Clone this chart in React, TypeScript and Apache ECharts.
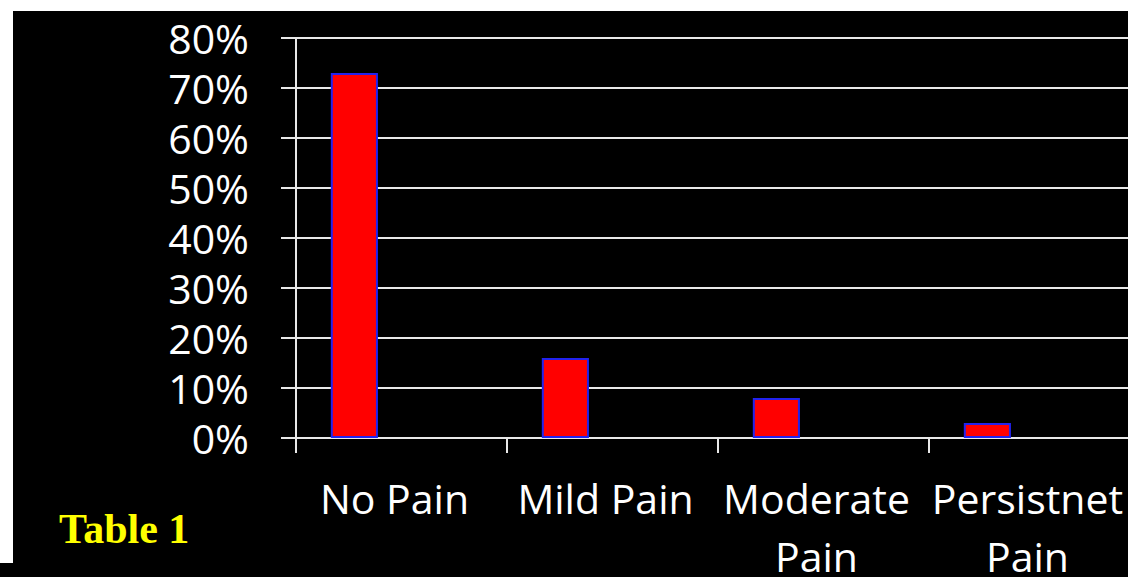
import React, { useEffect, useRef } from "react";
import * as echarts from "echarts";

const categories = ["No Pain", "Mild Pain", "Moderate\nPain", "Persistnet\nPain"];
const painValues = [73, 16, 8, 3];
const yTicks = { min: 0, max: 80, interval: 10 };
const captionText = "Table 1";

export default function App() {
  const ref = useRef<HTMLDivElement>(null);
  useEffect(() => {
    if (!ref.current) return;
    const chart = echarts.init(ref.current, null, { renderer: "svg" });
    const font = "Open Sans";
    chart.setOption({
      animation: false,
      backgroundColor: "#ffffff",
      graphic: [
        { type: "rect", z: -10, shape: { x: 13, y: 11, width: 1115, height: 566 }, style: { fill: "#000000" } },
        { type: "rect", z: -10, shape: { x: 0, y: 563, width: 13, height: 14 }, style: { fill: "#000000" } },
        {
          type: "text",
          left: 59,
          top: 508,
          style: {
            text: captionText,
            fill: "#ffff00",
            font: "bold 42px 'Liberation Serif', 'Times New Roman', serif",
          },
        },
      ],
      grid: {
        left: 296,
        top: 38,
        width: 844,
        height: 400,
        containLabel: false,
        outerBoundsMode: "none",
      },
      xAxis: {
        type: "category",
        data: categories,
        axisLine: { show: true, lineStyle: { color: "#e8e8e8", width: 2 } },
        axisTick: { show: true, length: 15, lineStyle: { color: "#e8e8e8", width: 2 } },
        axisLabel: {
          interval: 0,
          color: "#ffffff",
          fontFamily: font,
          fontSize: 41,
          lineHeight: 58,
          margin: 31,
          padding: [0, 14, 0, 0],
        },
      },
      yAxis: {
        type: "value",
        min: yTicks.min,
        max: yTicks.max,
        interval: yTicks.interval,
        axisLine: { show: true, lineStyle: { color: "#e8e8e8", width: 2 } },
        axisTick: { show: true, length: 15, lineStyle: { color: "#e8e8e8", width: 2 } },
        splitLine: { show: true, lineStyle: { color: "#e8e8e8", width: 2 } },
        axisLabel: {
          color: "#ffffff",
          fontFamily: font,
          fontSize: 41,
          lineHeight: 42,
          margin: 47,
          formatter: "{value}%",
        },
      },
      series: [
        {
          type: "bar",
          data: painValues,
          barGap: "0%",
          barCategoryGap: "33%",
          itemStyle: { color: "#ff0000", borderColor: "#2222ee", borderWidth: 2 },
        },
        { type: "bar", data: painValues.map(() => null) },
        { type: "bar", data: painValues.map(() => null) },
      ],
    });
    return () => chart.dispose();
  }, []);
  return (
    <div
      ref={ref}
      style={{ position: "absolute", left: 0, top: 0, width: 1128, height: 577 }}
    />
  );
}
